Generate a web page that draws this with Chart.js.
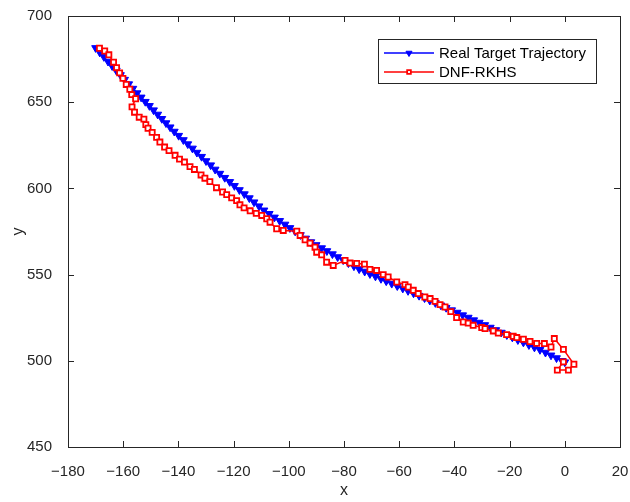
<!DOCTYPE html>
<html>
<head>
<meta charset="utf-8">
<title>Trajectory</title>
<script src="https://cdn.jsdelivr.net/npm/chart.js@4/dist/chart.umd.min.js"></script>
<style>
  html, body { margin: 0; padding: 0; background: #fff; }
</style>
</head>
<body>
<canvas id="traj" width="630" height="502"></canvas>
<script>
// Real target trajectory (blue, downward triangles)
var blueX = [-170, -168.5, -167, -165.5, -164, -162.5, -161, -159.5, -158, -156.5, -155, -153.5, -152, -150.5, -149, -147.5, -146, -144.5, -143, -141.5,
  -139.9, -138.2, -136.6, -134.9, -133.3, -131.6, -130, -128.3, -126.7, -125,
  -123.2, -121.4, -119.7, -117.9, -116.1, -114.3, -112.6, -110.8, -109,
  -107.1, -105.2, -103.3, -101.4, -99.6, -97.7, -95.8, -93.9, -92,
  -90.1, -88.1, -86.2, -84.2, -82.3, -80.3, -78.4, -76.4, -74.5,
  -72.5, -70.6, -68.6, -66.6, -64.7, -62.7, -60.7, -58.7, -56.8, -54.8, -52.8, -50.8, -48.9, -46.9, -44.9, -43.0, -41.0,
  -39, -37, -35, -33, -31, -29, -27, -25, -23, -21, -19, -17, -15, -13, -11, -9,
  -7, -5, -3, -1, 0];
var blueY = [681.5, 678.9, 676.3, 673.6, 671.0, 668.4, 665.8, 663.1, 660.5, 657.9, 655.3, 652.8, 650.3, 647.9, 645.4, 642.9, 640.4, 637.9, 635.5, 633.0,
  630.6, 628.1, 625.7, 623.2, 620.8, 618.4, 615.9, 613.5, 611.0, 608.6,
  606.2, 603.8, 601.5, 599.1, 596.7, 594.4, 592.0, 589.7, 587.3,
  585.3, 583.2, 581.2, 579.1, 577.1, 575.1, 573.0, 571.0, 568.9,
  567.2, 565.4, 563.7, 561.9, 560.2, 558.4, 556.7, 554.9, 553.2,
  551.8, 550.4, 549.0, 547.6, 546.2, 544.8, 543.4, 542.0, 540.6, 539.2, 537.8, 536.4, 535.0, 533.6, 532.2, 530.8, 529.4,
  528.0, 526.5, 525.1, 523.6, 522.2, 520.8, 519.3, 517.9, 516.4, 515.0, 513.6, 512.1, 510.7, 509.2, 507.8, 506.4,
  504.8, 503.2, 501.6, 500.0, 499.2];

// DNF-RKHS estimate (red, squares)
var redX = [-168.6, -166.7, -165.2, -163.5, -162.4, -161.3, -160.1, -158.9, -157.6, -156.9,
  -155.5, -156.8, -155.9, -154.2, -152.5, -151.8, -151.0, -149.5, -147.9, -146.7,
  -145.0, -143.4, -141.2, -139.6, -137.8, -135.8, -134.2, -131.8, -130.4, -128.6,
  -126.2, -124.0, -122.5, -120.7, -118.9, -117.7, -116.2, -114.0, -111.8, -109.8,
  -108.0, -106.8, -104.4, -102.0, -97.1, -95.9, -94.1, -92.3, -90.5, -89.9,
  -88.1, -86.3, -83.9, -79.6, -77.8, -75.4, -72.6, -70.6, -68.2, -65.8,
  -64.0, -60.9, -57.9, -56.7, -54.9, -53.1, -50.7, -48.8, -47.0, -45.2,
  -43.4, -41.3, -39.2, -36.8, -35.0, -33.2, -30.1, -28.9, -25.9, -24.1,
  -21.1, -18.7, -17.4, -15.0, -12.6, -10.2, -7.4, -5.0, -3.8, -0.5,
  3.3, 1.3, -2.7, -0.5];
var redY = [681.3, 679.7, 677.5, 673.2, 670.0, 667.0, 663.8, 660.3, 657.5, 654.4,
  652.0, 647.3, 644.2, 641.3, 640.2, 637.0, 634.9, 632.5, 629.6, 626.9,
  624.0, 621.9, 619.2, 617.0, 615.3, 612.6, 611.0, 607.8, 605.9, 603.9,
  600.4, 597.9, 596.4, 594.5, 592.9, 590.5, 588.7, 587.0, 585.5, 584.3,
  582.4, 580.4, 576.6, 575.6, 575.2, 572.7, 570.2, 568.2, 565.9, 563.0,
  561.5, 557.2, 555.3, 558.2, 556.7, 556.5, 556.1, 553.0, 552.4, 550.0,
  548.6, 545.7, 544.2, 542.8, 540.9, 539.0, 537.0, 536.1, 534.5, 532.6,
  531.2, 528.5, 525.1, 522.5, 521.9, 520.6, 519.3, 518.7, 517.3, 516.1,
  515.2, 514.2, 513.5, 512.5, 511.2, 510.1, 510.0, 508.0, 512.9, 506.6,
  498.0, 494.6, 494.6, 499.4];

var seriesNames = ['Real Target Trajectory', 'DNF-RKHS'];
var xRange = [-180, 20], xStep = 20;
var yRange = [450, 700], yStep = 50;

var axisColor = '#262626';
var fontFam = '"Liberation Sans", Arial, Helvetica, sans-serif';
var tickLen = 6;

function pts(xs, ys) {
  return xs.map(function (x, i) { return { x: x, y: ys[i] }; });
}
function minus(v) {
  return String(v).replace('-', '\u2212');
}

var blueSet = {
  label: seriesNames[0],
  data: pts(blueX, blueY),
  showLine: true,
  borderColor: '#0000ff',
  borderWidth: 1.5,
  pointStyle: 'triangle',
  rotation: 180,
  pointRadius: 4.5,
  pointBorderWidth: 1,
  pointBorderColor: '#0000ff',
  pointBackgroundColor: '#0000ff',
  order: 2
};
var redSet = {
  label: seriesNames[1],
  data: pts(redX, redY),
  showLine: true,
  borderColor: '#ff0000',
  borderWidth: 1.5,
  pointStyle: 'rect',
  pointRadius: 3.6,
  pointBorderWidth: 1.8,
  pointBorderColor: '#ff0000',
  pointBackgroundColor: '#ffffff',
  order: 1
};

// box, inward ticks and the legend inside the axes
var frame = {
  id: 'frame',
  afterDraw: function (chart) {
    var c = chart.ctx, a = chart.chartArea;
    var sx = chart.scales.x, sy = chart.scales.y;
    c.save();
    c.strokeStyle = axisColor;
    c.lineWidth = 1;
    c.beginPath();
    sx.ticks.forEach(function (t) {
      var px = Math.round(sx.getPixelForValue(t.value)) + 0.5;
      c.moveTo(px, a.bottom); c.lineTo(px, a.bottom - tickLen);
      c.moveTo(px, a.top); c.lineTo(px, a.top + tickLen);
    });
    sy.ticks.forEach(function (t) {
      var py = Math.round(sy.getPixelForValue(t.value)) + 0.5;
      c.moveTo(a.left, py); c.lineTo(a.left + tickLen, py);
      c.moveTo(a.right, py); c.lineTo(a.right - tickLen, py);
    });
    c.stroke();
    c.strokeRect(Math.round(a.left) + 0.5, Math.round(a.top) + 0.5,
      Math.round(a.right - a.left), Math.round(a.bottom - a.top));

    // legend
    var lx = 378, ly = 39, lw = 218, lh = 44;
    c.fillStyle = '#ffffff';
    c.fillRect(lx, ly, lw, lh);
    c.strokeRect(lx + 0.5, ly + 0.5, lw, lh);
    var sets = [blueSet, redSet];
    var rows = [53, 72];
    sets.forEach(function (ds, i) {
      var y = rows[i];
      c.strokeStyle = ds.borderColor;
      c.lineWidth = ds.borderWidth;
      c.beginPath();
      c.moveTo(384, y); c.lineTo(434, y);
      c.stroke();
      c.fillStyle = ds.pointBackgroundColor;
      c.strokeStyle = ds.pointBorderColor;
      c.lineWidth = ds.pointBorderWidth;
      Chart.helpers.drawPoint(c, {
        pointStyle: ds.pointStyle,
        radius: ds.pointRadius - 1,
        rotation: ds.rotation || 0,
        borderWidth: ds.pointBorderWidth
      }, 409, y);
      c.fillStyle = '#000000';
      c.font = '15px ' + fontFam;
      c.textBaseline = 'middle';
      c.textAlign = 'left';
      c.fillText(ds.label, 439, y + 1);
    });
    c.restore();
  }
};

new Chart(document.getElementById('traj').getContext('2d'), {
  type: 'scatter',
  data: { datasets: [blueSet, redSet] },
  options: {
    responsive: false,
    animation: false,
    devicePixelRatio: 1,
    layout: { padding: { top: 16, right: 10, left: 0, bottom: 0 } },
    plugins: { legend: { display: false }, tooltip: { enabled: false } },
    scales: {
      x: {
        type: 'linear',
        min: xRange[0], max: xRange[1],
        grid: { display: false },
        border: { display: false },
        ticks: {
          stepSize: xStep, padding: 8, color: axisColor,
          font: { family: fontFam, size: 15 },
          maxRotation: 0,
          callback: function (v) { return minus(v); }
        },
        title: { display: true, text: 'x', color: axisColor, font: { family: fontFam, size: 16 }, padding: { top: 0, bottom: 2 } },
        afterFit: function (s) { s.height = 55; s.paddingLeft = 0; s.paddingRight = 0; }
      },
      y: {
        type: 'linear',
        min: yRange[0], max: yRange[1],
        grid: { display: false },
        border: { display: false },
        ticks: {
          stepSize: yStep, padding: 8, color: axisColor,
          font: { family: fontFam, size: 15 },
          callback: function (v) { return minus(v); }
        },
        title: { display: true, text: 'y', color: axisColor, font: { family: fontFam, size: 16 }, padding: { top: 9, bottom: 9 } },
        afterFit: function (s) { s.width = 68; s.paddingTop = 0; s.paddingBottom = 0; }
      }
    }
  },
  plugins: [frame]
});
</script>
</body>
</html>
